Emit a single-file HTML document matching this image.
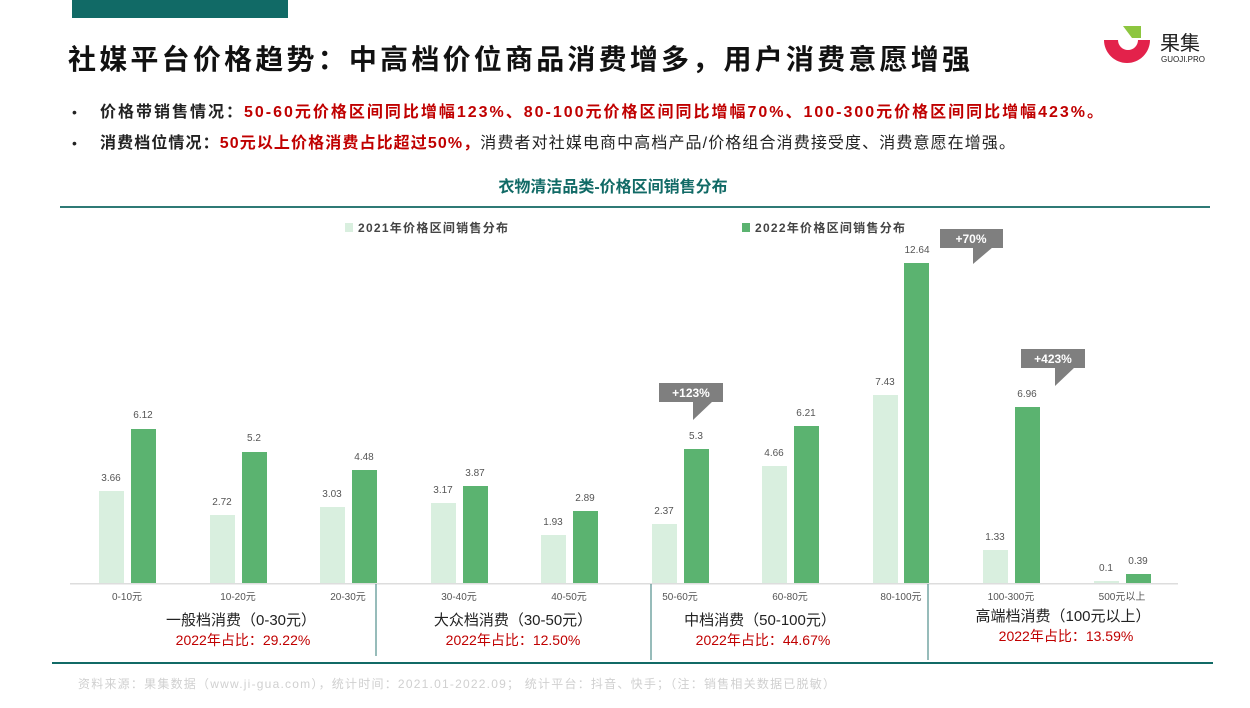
<!DOCTYPE html>
<html><head><meta charset="utf-8"><style>
body{margin:0;width:1250px;height:703px;background:#fff;overflow:hidden;font-family:"Liberation Sans","Noto Sans CJK SC",sans-serif;}
</style></head><body>
<svg width="1250" height="703" xmlns="http://www.w3.org/2000/svg" font-family="Liberation Sans, Noto Sans CJK SC, sans-serif">
<rect x="72" y="0" width="216" height="18" fill="#116a66"/>
<text x="68" y="69" font-size="28" font-weight="bold" fill="#111" textLength="902" lengthAdjust="spacing">社媒平台价格趋势：中高档价位商品消费增多，用户消费意愿增强</text>
<path d="M1104 40 h14 a10 10 0 0 0 20 0 h12 a17 17 0 0 1 -46 0z" fill="#e3224b"/>
<path d="M1123 26 h18 v12 h-9z" fill="#8dc63f"/>
<text x="1160" y="50" font-size="20" fill="#222">果集</text>
<text x="1161" y="62" font-size="8" fill="#222">GUOJI.PRO</text>
<text x="72" y="117" font-size="14" fill="#222">•</text>
<text x="100" y="117" font-size="16" font-weight="bold" fill="#222" textLength="1003" lengthAdjust="spacing">价格带销售情况：<tspan fill="#c00000">50-60元价格区间同比增幅123%、80-100元价格区间同比增幅70%、100-300元价格区间同比增幅423%。</tspan></text>
<text x="72" y="148" font-size="14" fill="#222">•</text>
<text x="100" y="148" font-size="16" fill="#222" textLength="915" lengthAdjust="spacing"><tspan font-weight="bold">消费档位情况：</tspan><tspan font-weight="bold" fill="#c00000">50元以上价格消费占比超过50%，</tspan>消费者对社媒电商中高档产品/价格组合消费接受度、消费意愿在增强。</text>
<text x="613" y="192" font-size="16" font-weight="bold" fill="#116a66" text-anchor="middle">衣物清洁品类-价格区间销售分布</text>
<rect x="60" y="206" width="1150" height="2" fill="#2f7a76"/>
<rect x="345" y="223" width="8" height="9" fill="#d9efdf"/>
<text x="358" y="232" font-size="12" fill="#444" font-weight="bold" textLength="150" lengthAdjust="spacing">2021年价格区间销售分布</text>
<rect x="742" y="223" width="8" height="9" fill="#5bb370"/>
<text x="755" y="232" font-size="12" fill="#444" font-weight="bold" textLength="150" lengthAdjust="spacing">2022年价格区间销售分布</text>
<g font-size="10" fill="#555" text-anchor="middle">
<rect x="99" y="491" width="25" height="93" fill="#d9efdf"/><rect x="131" y="429" width="25" height="155" fill="#5bb370"/><text x="111" y="481">3.66</text><text x="143" y="418">6.12</text><text x="127" y="600">0-10元</text>
<rect x="210" y="515" width="25" height="69" fill="#d9efdf"/><rect x="242" y="452" width="25" height="132" fill="#5bb370"/><text x="222" y="505">2.72</text><text x="254" y="441">5.2</text><text x="238" y="600">10-20元</text>
<rect x="320" y="507" width="25" height="77" fill="#d9efdf"/><rect x="352" y="470" width="25" height="114" fill="#5bb370"/><text x="332" y="497">3.03</text><text x="364" y="460">4.48</text><text x="348" y="600">20-30元</text>
<rect x="431" y="503" width="25" height="81" fill="#d9efdf"/><rect x="463" y="486" width="25" height="98" fill="#5bb370"/><text x="443" y="493">3.17</text><text x="475" y="476">3.87</text><text x="459" y="600">30-40元</text>
<rect x="541" y="535" width="25" height="49" fill="#d9efdf"/><rect x="573" y="511" width="25" height="73" fill="#5bb370"/><text x="553" y="525">1.93</text><text x="585" y="501">2.89</text><text x="569" y="600">40-50元</text>
<rect x="652" y="524" width="25" height="60" fill="#d9efdf"/><rect x="684" y="449" width="25" height="135" fill="#5bb370"/><text x="664" y="514">2.37</text><text x="696" y="439">5.3</text><text x="680" y="600">50-60元</text>
<rect x="762" y="466" width="25" height="118" fill="#d9efdf"/><rect x="794" y="426" width="25" height="158" fill="#5bb370"/><text x="774" y="456">4.66</text><text x="806" y="416">6.21</text><text x="790" y="600">60-80元</text>
<rect x="873" y="395" width="25" height="189" fill="#d9efdf"/><rect x="904" y="263" width="25" height="321" fill="#5bb370"/><text x="885" y="385">7.43</text><text x="917" y="253">12.64</text><text x="901" y="600">80-100元</text>
<rect x="983" y="550" width="25" height="34" fill="#d9efdf"/><rect x="1015" y="407" width="25" height="177" fill="#5bb370"/><text x="995" y="540">1.33</text><text x="1027" y="397">6.96</text><text x="1011" y="600">100-300元</text>
<rect x="1094" y="581" width="25" height="3" fill="#d9efdf"/><rect x="1126" y="574" width="25" height="10" fill="#5bb370"/><text x="1106" y="571">0.1</text><text x="1138" y="564">0.39</text><text x="1122" y="600">500元以上</text>
</g>
<rect x="70" y="583" width="1108" height="1.5" fill="#ddd"/>
<g fill="#7f7f7f"><rect x="940" y="229" width="63" height="19"/><path d="M973 247 L993 247 L973 264z"/>
<rect x="1021" y="349" width="64" height="19"/><path d="M1055 367 L1075 367 L1055 386z"/>
<rect x="659" y="383" width="64" height="19"/><path d="M693 401 L713 401 L693 420z"/></g>
<g font-size="12" font-weight="bold" fill="#fff" text-anchor="middle"><text x="971" y="243">+70%</text><text x="1053" y="363">+423%</text><text x="691" y="397">+123%</text></g>
<g stroke="#2f7a76" stroke-width="1"><line x1="376" y1="584" x2="376" y2="656"/><line x1="651" y1="584" x2="651" y2="660"/><line x1="928" y1="584" x2="928" y2="660"/></g>
<g font-size="15" text-anchor="middle"><text x="241" y="625" fill="#222">一般档消费（0-30元）</text><text x="243" y="645" fill="#c00000" font-size="14">2022年占比：29.22%</text>
<text x="513" y="625" fill="#222">大众档消费（30-50元）</text><text x="513" y="645" fill="#c00000" font-size="14">2022年占比：12.50%</text>
<text x="760" y="625" fill="#222">中档消费（50-100元）</text><text x="763" y="645" fill="#c00000" font-size="14">2022年占比：44.67%</text>
<text x="1063" y="621" fill="#222">高端档消费（100元以上）</text><text x="1066" y="641" fill="#c00000" font-size="14">2022年占比：13.59%</text></g>
<rect x="52" y="662" width="1161" height="2" fill="#116a66"/>
<text x="78" y="688" font-size="12" fill="#d0d0d0" textLength="757" lengthAdjust="spacing">资料来源：果集数据（www.ji-gua.com），统计时间：2021.01-2022.09；    统计平台：抖音、快手；（注：销售相关数据已脱敏）</text>
</svg>
</body></html>
